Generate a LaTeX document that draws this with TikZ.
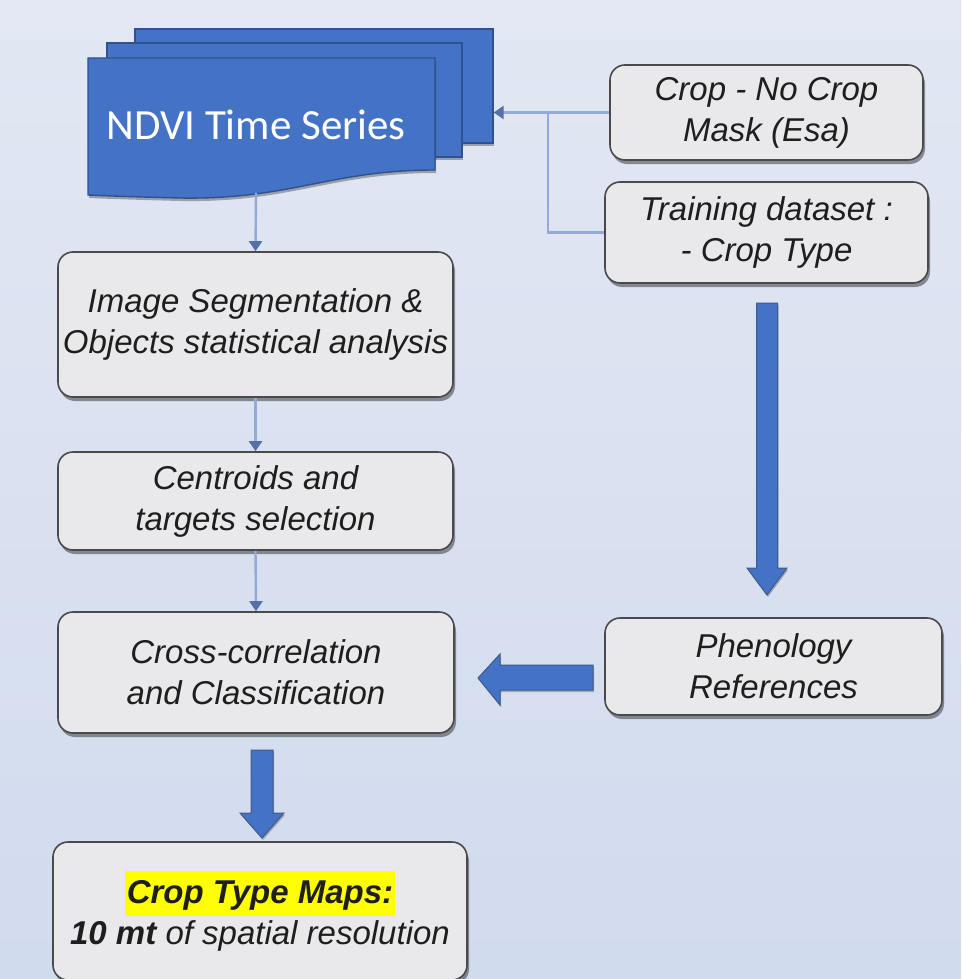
\documentclass[tikz,border=0pt]{standalone}
\usepackage{fontspec}
\setmainfont{Liberation Sans}
\newfontfamily\calibfont{Carlito}
\usetikzlibrary{shadows,arrows.meta,calc}
\definecolor{bgtop}{HTML}{E2E7F3}
\definecolor{bgbot}{HTML}{D1DBEE}
\definecolor{boxfill}{HTML}{E9E9EB}
\definecolor{boxline}{HTML}{4A4A4A}
\definecolor{ndviblue}{HTML}{4472C4}
\definecolor{ndviedge}{HTML}{2F528F}
\definecolor{connline}{HTML}{93AAD6}
\definecolor{connhead}{HTML}{5470A8}
\definecolor{hl}{HTML}{FFFF00}
\definecolor{txt}{HTML}{1E1E1E}
\begin{document}
\begin{tikzpicture}[x=1pt,y=-1pt,
  box/.style={draw=boxline, line width=1.6pt, fill=boxfill, rounded corners=15pt,
    align=center, inner sep=0pt, text=txt,
    font=\fontsize{33}{41}\selectfont\itshape,
    drop shadow={shadow xshift=2pt, shadow yshift=-4pt, fill=black, opacity=.4}},
  page/.style={draw=ndviedge, line width=1.4pt, fill=ndviblue, inner sep=0pt,
    drop shadow={shadow xshift=1pt, shadow yshift=-3pt, fill=black, opacity=.3}},
  conn/.style={draw=connline, line width=2.4pt},
  connarrow/.style={conn, -{Triangle[width=13pt,length=10pt,fill=connhead,color=connhead]}},
  bigarrow/.style={fill=ndviblue, draw=ndviedge!80!gray, line width=1pt,
    drop shadow={shadow xshift=1pt, shadow yshift=-2pt, fill=black, opacity=.25}},
]
\useasboundingbox (0,0) rectangle (961,979);
\clip (0,0) rectangle (961,979);
\shade[top color=bgtop, bottom color=bgbot] (0,0) rectangle (961,979);

% NDVI stacked document
\node[page, minimum width=358pt, minimum height=114pt] (p3) at (314,86) {};
\node[page, minimum width=355pt, minimum height=114pt] (p2) at (284.5,100) {};
\filldraw[fill=ndviblue, draw=ndviedge, line width=1.4pt,
  drop shadow={shadow xshift=1pt, shadow yshift=-3pt, fill=black, opacity=.3}]
  (88,58) -- (435,58) -- (435,170)
  .. controls (330,170) and (290,200) .. (180,198)
  .. controls (140,197) and (110,196) .. (88,195) -- cycle;
\node[font=\calibfont\fontsize{43}{50}\selectfont, text=white] (ndvi) at (256,125) {NDVI Time Series};
\coordinate (ndviB) at (256,193);

% boxes
\node[box, minimum width=313pt, minimum height=95pt] (mask) at (766.5,112.5) {Crop - No Crop\\Mask (Esa)};
\node[box, minimum width=323pt, minimum height=101pt] (train) at (766.5,232.5) {Training dataset :\\- Crop Type};
\node[box, minimum width=395pt, minimum height=145pt] (seg) at (255.5,324.5) {Image Segmentation \&\\Objects statistical analysis};
\node[box, minimum width=395pt, minimum height=98pt] (cent) at (255.5,501) {Centroids and\\targets selection};
\node[box, minimum width=396pt, minimum height=121pt] (cross) at (256,672.5) {Cross-correlation\\and Classification};
\node[box, minimum width=337pt, minimum height=97pt] (pheno) at (773.5,666.5) {Phenology\\References};
\node[box, minimum width=414pt, minimum height=138pt] (maps) at (260,911)
  {{\setlength{\fboxsep}{2pt}\colorbox{hl}{\rule[-11pt]{0pt}{41pt}\bfseries Crop Type Maps:}}\\\textbf{10 mt} of spatial resolution};

% thin connectors
\coordinate (jn) at (548,112.5);
\draw[connarrow] (mask.west) -- (mask.west -| p3.east);
\draw[conn] (train.west) -| (jn);
\draw[connarrow] (ndviB) -- (seg.north);
\draw[connarrow] (seg.south) -- (cent.north);
\draw[connarrow] (cent.south) -- (cross.north);

% block arrows
\draw[bigarrow] (756.5,303) -- (777.5,303) -- (777.5,568) -- (787,568) -- (767,595)
  -- (747,568) -- (756.5,568) -- cycle;
\draw[bigarrow] (251,750) -- (273,750) -- (273,813) -- (284,813) -- (262,838)
  -- (240,813) -- (251,813) -- cycle;
\draw[bigarrow] (593,665) -- (593,690) -- (500,690) -- (500,705) -- (478,678)
  -- (500,654) -- (500,665) -- cycle;
\end{tikzpicture}
\end{document}
